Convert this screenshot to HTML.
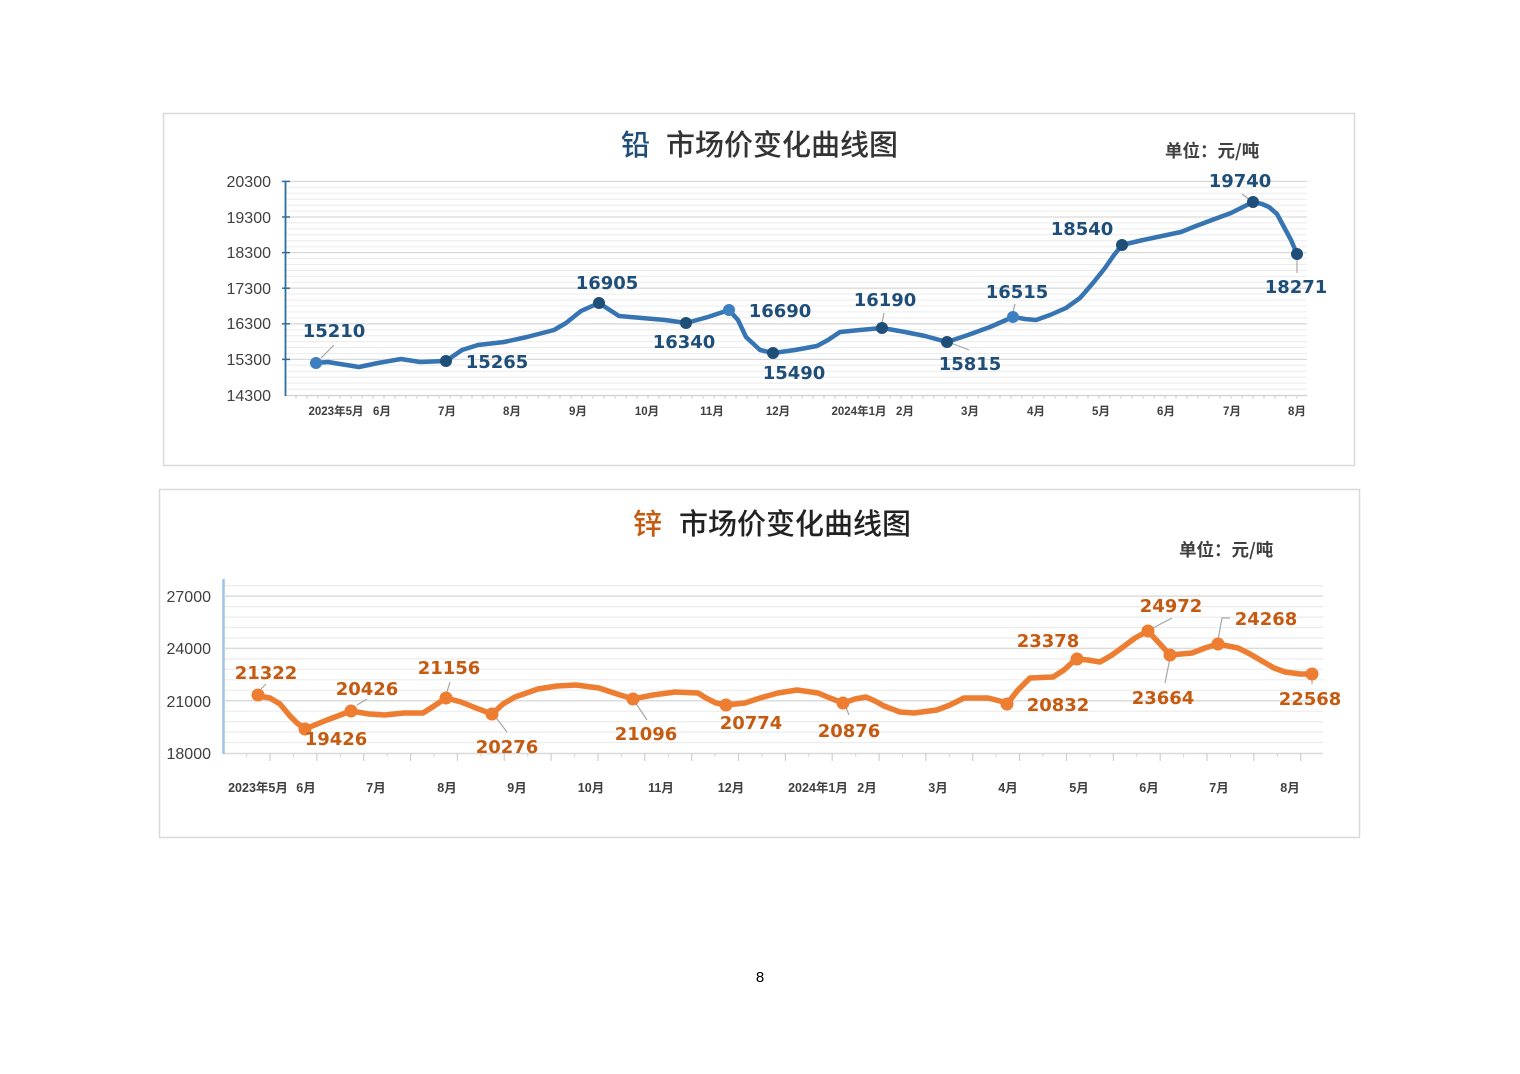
<!DOCTYPE html>
<html><head><meta charset="utf-8"><style>
html,body{margin:0;padding:0;background:#fff;}
svg{display:block;}
.yl{font-family:"Liberation Sans",sans-serif;font-size:16px;fill:#404040;text-anchor:end;}
.xl{font-family:"Liberation Sans","Noto Sans CJK SC",sans-serif;font-size:11.5px;fill:#404040;text-anchor:middle;font-weight:bold;}
.xl2{font-family:"Liberation Sans","Noto Sans CJK SC",sans-serif;font-size:12.5px;fill:#404040;text-anchor:middle;font-weight:bold;}
.d1{font-family:"DejaVu Sans",sans-serif;font-weight:bold;font-size:18px;fill:#1f4e79;text-anchor:middle;}
.d2{font-family:"DejaVu Sans",sans-serif;font-weight:bold;font-size:18px;fill:#c55a11;text-anchor:middle;}
.t{font-family:"Noto Sans CJK SC",sans-serif;font-size:29px;font-weight:500;}
.u{font-family:"Noto Sans CJK SC",sans-serif;font-size:17.5px;font-weight:bold;fill:#404040;}
</style></head><body>
<svg width="1520" height="1074" viewBox="0 0 1520 1074" xmlns="http://www.w3.org/2000/svg">
<rect width="1520" height="1074" fill="#fff"/>

<!-- ============ CHART 1 ============ -->
<rect x="163.5" y="113.5" width="1191" height="352" fill="#fff" stroke="#d9d9d9" stroke-width="1.5"/>
<text class="t" x="621" y="155" fill="#1f4e79">铅</text>
<text class="t" x="666" y="155" fill="#333">市场价变化曲线图</text>
<text class="u" x="1165" y="157">单位：元/吨</text>

<g stroke="#ececec" stroke-width="1">
<line x1="286" x2="1307" y1="187.3" y2="187.3"/><line x1="286" x2="1307" y1="193.3" y2="193.3"/><line x1="286" x2="1307" y1="199.2" y2="199.2"/><line x1="286" x2="1307" y1="205.1" y2="205.1"/><line x1="286" x2="1307" y1="211.1" y2="211.1"/>
<line x1="286" x2="1307" y1="222.9" y2="222.9"/><line x1="286" x2="1307" y1="228.9" y2="228.9"/><line x1="286" x2="1307" y1="234.8" y2="234.8"/><line x1="286" x2="1307" y1="240.7" y2="240.7"/><line x1="286" x2="1307" y1="246.7" y2="246.7"/>
<line x1="286" x2="1307" y1="258.5" y2="258.5"/><line x1="286" x2="1307" y1="264.5" y2="264.5"/><line x1="286" x2="1307" y1="270.4" y2="270.4"/><line x1="286" x2="1307" y1="276.3" y2="276.3"/><line x1="286" x2="1307" y1="282.3" y2="282.3"/>
<line x1="286" x2="1307" y1="294.1" y2="294.1"/><line x1="286" x2="1307" y1="300.1" y2="300.1"/><line x1="286" x2="1307" y1="306" y2="306"/><line x1="286" x2="1307" y1="311.9" y2="311.9"/><line x1="286" x2="1307" y1="317.9" y2="317.9"/>
<line x1="286" x2="1307" y1="329.7" y2="329.7"/><line x1="286" x2="1307" y1="335.7" y2="335.7"/><line x1="286" x2="1307" y1="341.6" y2="341.6"/><line x1="286" x2="1307" y1="347.5" y2="347.5"/><line x1="286" x2="1307" y1="353.5" y2="353.5"/>
<line x1="286" x2="1307" y1="365.3" y2="365.3"/><line x1="286" x2="1307" y1="371.3" y2="371.3"/><line x1="286" x2="1307" y1="377.2" y2="377.2"/><line x1="286" x2="1307" y1="383.1" y2="383.1"/><line x1="286" x2="1307" y1="389.1" y2="389.1"/>
</g>
<g stroke="#d9d9d9" stroke-width="1.3">
<line x1="286" x2="1307" y1="181.4" y2="181.4"/><line x1="286" x2="1307" y1="217" y2="217"/><line x1="286" x2="1307" y1="252.6" y2="252.6"/><line x1="286" x2="1307" y1="288.2" y2="288.2"/><line x1="286" x2="1307" y1="323.8" y2="323.8"/><line x1="286" x2="1307" y1="359.4" y2="359.4"/>
</g>
<!-- x axis -->
<line x1="286" x2="1307" y1="395.5" y2="395.5" stroke="#d0d0d0" stroke-width="1.3"/>
<g stroke="#cfcfcf" stroke-width="1">
<line x1="296" x2="296" y1="395" y2="399"/><line x1="307" x2="307" y1="395" y2="399"/><line x1="318" x2="318" y1="395" y2="399"/><line x1="329" x2="329" y1="395" y2="399"/><line x1="340" x2="340" y1="395" y2="399"/><line x1="351" x2="351" y1="395" y2="399"/><line x1="362" x2="362" y1="395" y2="399"/><line x1="373" x2="373" y1="395" y2="399"/><line x1="384" x2="384" y1="395" y2="399"/><line x1="395" x2="395" y1="395" y2="399"/><line x1="406" x2="406" y1="395" y2="399"/><line x1="417" x2="417" y1="395" y2="399"/><line x1="428" x2="428" y1="395" y2="399"/><line x1="439" x2="439" y1="395" y2="399"/><line x1="450" x2="450" y1="395" y2="399"/><line x1="461" x2="461" y1="395" y2="399"/><line x1="472" x2="472" y1="395" y2="399"/><line x1="483" x2="483" y1="395" y2="399"/><line x1="494" x2="494" y1="395" y2="399"/><line x1="505" x2="505" y1="395" y2="399"/><line x1="516" x2="516" y1="395" y2="399"/><line x1="527" x2="527" y1="395" y2="399"/><line x1="538" x2="538" y1="395" y2="399"/><line x1="549" x2="549" y1="395" y2="399"/><line x1="560" x2="560" y1="395" y2="399"/><line x1="571" x2="571" y1="395" y2="399"/><line x1="582" x2="582" y1="395" y2="399"/><line x1="593" x2="593" y1="395" y2="399"/><line x1="604" x2="604" y1="395" y2="399"/><line x1="615" x2="615" y1="395" y2="399"/><line x1="626" x2="626" y1="395" y2="399"/><line x1="637" x2="637" y1="395" y2="399"/><line x1="648" x2="648" y1="395" y2="399"/><line x1="659" x2="659" y1="395" y2="399"/><line x1="670" x2="670" y1="395" y2="399"/><line x1="681" x2="681" y1="395" y2="399"/><line x1="692" x2="692" y1="395" y2="399"/><line x1="703" x2="703" y1="395" y2="399"/><line x1="714" x2="714" y1="395" y2="399"/><line x1="725" x2="725" y1="395" y2="399"/><line x1="736" x2="736" y1="395" y2="399"/><line x1="747" x2="747" y1="395" y2="399"/><line x1="758" x2="758" y1="395" y2="399"/><line x1="769" x2="769" y1="395" y2="399"/><line x1="780" x2="780" y1="395" y2="399"/><line x1="791" x2="791" y1="395" y2="399"/><line x1="802" x2="802" y1="395" y2="399"/><line x1="813" x2="813" y1="395" y2="399"/><line x1="824" x2="824" y1="395" y2="399"/><line x1="835" x2="835" y1="395" y2="399"/><line x1="846" x2="846" y1="395" y2="399"/><line x1="857" x2="857" y1="395" y2="399"/><line x1="868" x2="868" y1="395" y2="399"/><line x1="879" x2="879" y1="395" y2="399"/><line x1="890" x2="890" y1="395" y2="399"/><line x1="901" x2="901" y1="395" y2="399"/><line x1="912" x2="912" y1="395" y2="399"/><line x1="923" x2="923" y1="395" y2="399"/><line x1="934" x2="934" y1="395" y2="399"/><line x1="945" x2="945" y1="395" y2="399"/><line x1="956" x2="956" y1="395" y2="399"/><line x1="967" x2="967" y1="395" y2="399"/><line x1="978" x2="978" y1="395" y2="399"/><line x1="989" x2="989" y1="395" y2="399"/><line x1="1000" x2="1000" y1="395" y2="399"/><line x1="1011" x2="1011" y1="395" y2="399"/><line x1="1022" x2="1022" y1="395" y2="399"/><line x1="1033" x2="1033" y1="395" y2="399"/><line x1="1044" x2="1044" y1="395" y2="399"/><line x1="1055" x2="1055" y1="395" y2="399"/><line x1="1066" x2="1066" y1="395" y2="399"/><line x1="1077" x2="1077" y1="395" y2="399"/><line x1="1088" x2="1088" y1="395" y2="399"/><line x1="1099" x2="1099" y1="395" y2="399"/><line x1="1110" x2="1110" y1="395" y2="399"/><line x1="1121" x2="1121" y1="395" y2="399"/><line x1="1132" x2="1132" y1="395" y2="399"/><line x1="1143" x2="1143" y1="395" y2="399"/><line x1="1154" x2="1154" y1="395" y2="399"/><line x1="1165" x2="1165" y1="395" y2="399"/><line x1="1176" x2="1176" y1="395" y2="399"/><line x1="1187" x2="1187" y1="395" y2="399"/><line x1="1198" x2="1198" y1="395" y2="399"/><line x1="1209" x2="1209" y1="395" y2="399"/><line x1="1220" x2="1220" y1="395" y2="399"/><line x1="1231" x2="1231" y1="395" y2="399"/><line x1="1242" x2="1242" y1="395" y2="399"/><line x1="1253" x2="1253" y1="395" y2="399"/><line x1="1264" x2="1264" y1="395" y2="399"/><line x1="1275" x2="1275" y1="395" y2="399"/><line x1="1286" x2="1286" y1="395" y2="399"/><line x1="1297" x2="1297" y1="395" y2="399"/>
</g>
<!-- y axis -->
<line x1="285.5" x2="285.5" y1="181" y2="396" stroke="#2e6e9e" stroke-width="1.8"/>
<g stroke="#2e6e9e" stroke-width="1.5">
<line x1="282" x2="290" y1="181.4" y2="181.4"/><line x1="282" x2="290" y1="217" y2="217"/><line x1="282" x2="290" y1="252.6" y2="252.6"/><line x1="282" x2="290" y1="288.2" y2="288.2"/><line x1="282" x2="290" y1="323.8" y2="323.8"/><line x1="282" x2="290" y1="359.4" y2="359.4"/>
</g>
<g class="yl">
<text x="271" y="187">20300</text><text x="271" y="223">19300</text><text x="271" y="258">18300</text><text x="271" y="294">17300</text><text x="271" y="329">16300</text><text x="271" y="365">15300</text><text x="271" y="401">14300</text>
</g>
<g class="xl">
<text x="336" y="415">2023年5月</text><text x="382" y="415">6月</text><text x="447" y="415">7月</text><text x="512" y="415">8月</text><text x="578" y="415">9月</text><text x="647" y="415">10月</text><text x="712" y="415">11月</text><text x="778" y="415">12月</text><text x="859" y="415">2024年1月</text><text x="905" y="415">2月</text><text x="970" y="415">3月</text><text x="1036" y="415">4月</text><text x="1101" y="415">5月</text><text x="1166" y="415">6月</text><text x="1232" y="415">7月</text><text x="1297" y="415">8月</text>
</g>
<!-- leader lines -->
<g stroke="#a6a6a6" stroke-width="1.2" fill="none">
<line x1="334" y1="345" x2="321" y2="358"/>
<line x1="884" y1="313" x2="882" y2="323"/>
<line x1="951" y1="343" x2="969" y2="350"/>
<line x1="1015" y1="304" x2="1013" y2="312"/>
<line x1="1242" y1="194" x2="1250" y2="200"/>
<line x1="1297" y1="258" x2="1297" y2="273"/>
</g>
<polyline fill="none" stroke="#3674b2" stroke-width="4.5" stroke-linejoin="round" stroke-linecap="round" points="315,363 328,362 340,364 359,367 378,363 401,359 420,362 446,361 462,350 478,345 504,342 527,337 554,330 566,323 581,311 599,303 619,316 642,318 665,320 686,323 708,317 729,310 738,320 746,337 760,350 773,353 795,350 817,346 828,340 840,332 860,330 882,328 905,332 925,336 947,342 968,335 990,327 1013,317 1025,319 1036,320 1050,315 1066,308 1080,298 1093,283 1105,268 1114,255 1122,245 1143,240 1162,236 1181,232 1196,226 1212,220 1231,213 1253,202 1262,204 1269,207 1277,214 1284,227 1291,240 1297,254"/>
<g>
<circle cx="316" cy="363" r="6" fill="#3d7fc0"/>
<circle cx="446" cy="361" r="6" fill="#1f4e79"/>
<circle cx="599" cy="303" r="6" fill="#1f4e79"/>
<circle cx="686" cy="323" r="6" fill="#1f4e79"/>
<circle cx="729" cy="310" r="6" fill="#3d7fc0"/>
<circle cx="773" cy="353" r="6" fill="#1f4e79"/>
<circle cx="882" cy="328" r="6" fill="#1f4e79"/>
<circle cx="947" cy="342" r="6" fill="#1f4e79"/>
<circle cx="1013" cy="317" r="6" fill="#3d7fc0"/>
<circle cx="1122" cy="245" r="6" fill="#1f4e79"/>
<circle cx="1253" cy="202" r="6" fill="#1f4e79"/>
<circle cx="1297" cy="254" r="6" fill="#1f4e79"/>
</g>
<g class="d1">
<text x="334" y="337">15210</text>
<text x="497" y="368">15265</text>
<text x="607" y="289">16905</text>
<text x="684" y="348">16340</text>
<text x="780" y="317">16690</text>
<text x="794" y="379">15490</text>
<text x="885" y="306">16190</text>
<text x="970" y="370">15815</text>
<text x="1017" y="298">16515</text>
<text x="1082" y="235">18540</text>
<text x="1240" y="187">19740</text>
<text x="1296" y="293">18271</text>
</g>

<!-- ============ CHART 2 ============ -->
<rect x="159.5" y="489.5" width="1200" height="348" fill="#fff" stroke="#d9d9d9" stroke-width="1.5"/>
<text class="t" x="633" y="534" fill="#c55a11">锌</text>
<text class="t" x="679" y="534" fill="#222">市场价变化曲线图</text>
<text class="u" x="1179" y="556">单位：元/吨</text>

<g stroke="#ececec" stroke-width="1.2">
<line x1="224" x2="1323" y1="585.6" y2="585.6"/><line x1="224" x2="1323" y1="606.6" y2="606.6"/><line x1="224" x2="1323" y1="617.1" y2="617.1"/><line x1="224" x2="1323" y1="627.5" y2="627.5"/><line x1="224" x2="1323" y1="638" y2="638"/>
<line x1="224" x2="1323" y1="658.9" y2="658.9"/><line x1="224" x2="1323" y1="669.3" y2="669.3"/><line x1="224" x2="1323" y1="679.8" y2="679.8"/><line x1="224" x2="1323" y1="690.2" y2="690.2"/>
<line x1="224" x2="1323" y1="711.2" y2="711.2"/><line x1="224" x2="1323" y1="721.6" y2="721.6"/><line x1="224" x2="1323" y1="732.1" y2="732.1"/><line x1="224" x2="1323" y1="742.5" y2="742.5"/>
</g>
<g stroke="#dcdcdc" stroke-width="1.5">
<line x1="224" x2="1323" y1="596.1" y2="596.1"/><line x1="224" x2="1323" y1="648.4" y2="648.4"/><line x1="224" x2="1323" y1="700.7" y2="700.7"/>
</g>
<line x1="224" x2="1323" y1="753.5" y2="753.5" stroke="#d9d9d9" stroke-width="1.5"/>
<g stroke="#cfcfcf" stroke-width="1.2">
<line x1="270" x2="270" y1="753" y2="761"/><line x1="316.9" x2="316.9" y1="753" y2="761"/><line x1="363.7" x2="363.7" y1="753" y2="761"/><line x1="410.6" x2="410.6" y1="753" y2="761"/><line x1="457.4" x2="457.4" y1="753" y2="761"/><line x1="504.3" x2="504.3" y1="753" y2="761"/><line x1="551.1" x2="551.1" y1="753" y2="761"/><line x1="598" x2="598" y1="753" y2="761"/><line x1="644.8" x2="644.8" y1="753" y2="761"/><line x1="691.7" x2="691.7" y1="753" y2="761"/><line x1="738.5" x2="738.5" y1="753" y2="761"/><line x1="785.4" x2="785.4" y1="753" y2="761"/><line x1="832.2" x2="832.2" y1="753" y2="761"/><line x1="879.1" x2="879.1" y1="753" y2="761"/><line x1="925.9" x2="925.9" y1="753" y2="761"/><line x1="972.8" x2="972.8" y1="753" y2="761"/><line x1="1019.6" x2="1019.6" y1="753" y2="761"/><line x1="1066.5" x2="1066.5" y1="753" y2="761"/><line x1="1113.3" x2="1113.3" y1="753" y2="761"/><line x1="1160.2" x2="1160.2" y1="753" y2="761"/><line x1="1207" x2="1207" y1="753" y2="761"/><line x1="1253.9" x2="1253.9" y1="753" y2="761"/><line x1="1300.7" x2="1300.7" y1="753" y2="761"/>
</g>
<g stroke="#d6d6d6" stroke-width="1">
<line x1="246.6" x2="246.6" y1="753" y2="757"/><line x1="293.5" x2="293.5" y1="753" y2="757"/><line x1="340.3" x2="340.3" y1="753" y2="757"/><line x1="387.2" x2="387.2" y1="753" y2="757"/><line x1="434" x2="434" y1="753" y2="757"/><line x1="480.9" x2="480.9" y1="753" y2="757"/><line x1="527.7" x2="527.7" y1="753" y2="757"/><line x1="574.6" x2="574.6" y1="753" y2="757"/><line x1="621.4" x2="621.4" y1="753" y2="757"/><line x1="668.3" x2="668.3" y1="753" y2="757"/><line x1="715.1" x2="715.1" y1="753" y2="757"/><line x1="762" x2="762" y1="753" y2="757"/><line x1="808.8" x2="808.8" y1="753" y2="757"/><line x1="855.7" x2="855.7" y1="753" y2="757"/><line x1="902.5" x2="902.5" y1="753" y2="757"/><line x1="949.4" x2="949.4" y1="753" y2="757"/><line x1="996.2" x2="996.2" y1="753" y2="757"/><line x1="1043.1" x2="1043.1" y1="753" y2="757"/><line x1="1089.9" x2="1089.9" y1="753" y2="757"/><line x1="1136.8" x2="1136.8" y1="753" y2="757"/><line x1="1183.6" x2="1183.6" y1="753" y2="757"/><line x1="1230.5" x2="1230.5" y1="753" y2="757"/><line x1="1277.3" x2="1277.3" y1="753" y2="757"/>
</g>
<line x1="223.5" x2="223.5" y1="579" y2="754" stroke="#9dc3e6" stroke-width="2.5"/>
<g stroke="#c9dcee" stroke-width="1.2">
<line x1="224" x2="229" y1="596.1" y2="596.1"/><line x1="224" x2="229" y1="648.4" y2="648.4"/><line x1="224" x2="229" y1="700.7" y2="700.7"/>
</g>
<g class="yl">
<text x="211" y="602">27000</text><text x="211" y="654">24000</text><text x="211" y="707">21000</text><text x="211" y="759">18000</text>
</g>
<g class="xl2">
<text x="258" y="792">2023年5月</text><text x="306" y="792">6月</text><text x="376" y="792">7月</text><text x="447" y="792">8月</text><text x="517" y="792">9月</text><text x="591" y="792">10月</text><text x="661" y="792">11月</text><text x="731" y="792">12月</text><text x="818" y="792">2024年1月</text><text x="867" y="792">2月</text><text x="938" y="792">3月</text><text x="1008" y="792">4月</text><text x="1079" y="792">5月</text><text x="1149" y="792">6月</text><text x="1219" y="792">7月</text><text x="1290" y="792">8月</text>
</g>
<g stroke="#a6a6a6" stroke-width="1.2" fill="none">
<line x1="261" y1="689" x2="266" y2="684"/>
<line x1="357" y1="705" x2="367" y2="699"/>
<line x1="450" y1="682" x2="446" y2="695"/>
<line x1="494" y1="715" x2="507" y2="732"/>
<line x1="635" y1="702" x2="647" y2="720"/>
<line x1="845" y1="705" x2="849" y2="715"/>
<line x1="1153" y1="628" x2="1172" y2="618"/>
<line x1="1170" y1="658" x2="1165" y2="683"/>
<polyline points="1218,640 1222,618 1230,618"/>
<line x1="1312" y1="678" x2="1312" y2="684"/>
</g>
<polyline fill="none" stroke="#ed7d31" stroke-width="5.5" stroke-linejoin="round" stroke-linecap="round" points="258,696 270,698 280,704 290,716 297,723 305,729 327,720 351,711 369,714 385,715 404,713 423,713 434,706 446,698 461,702 476,708 492,714 503,704 515,697 538,689 557,686 576,685 599,688 614,693 633,699 653,695 675,692 698,693 706,698 716,703 726,705 745,703 760,698 778,693 797,690 818,693 830,698 843,703 855,699 866,697 875,701 884,706 900,712 914,713 937,710 950,705 964,698 988,698 1000,701 1007,704 1018,690 1030,678 1053,677 1064,670 1076,659 1088,660 1100,662 1112,655 1123,647 1135,638 1148,631 1160,644 1170,655 1192,653 1205,648 1218,644 1238,648 1250,654 1262,661 1274,668 1285,672 1300,674 1312,674"/>
<g fill="#ed7d31">
<circle cx="258" cy="695" r="6.5"/>
<circle cx="305" cy="729" r="6.5"/>
<circle cx="351" cy="711" r="6.5"/>
<circle cx="446" cy="698" r="6.5"/>
<circle cx="492" cy="714" r="6.5"/>
<circle cx="633" cy="699" r="6.5"/>
<circle cx="726" cy="705" r="6.5"/>
<circle cx="843" cy="703" r="6.5"/>
<circle cx="1007" cy="704" r="6.5"/>
<circle cx="1077" cy="659" r="6.5"/>
<circle cx="1148" cy="631" r="6.5"/>
<circle cx="1170" cy="655" r="6.5"/>
<circle cx="1218" cy="644" r="6.5"/>
<circle cx="1312" cy="674" r="6.5"/>
</g>
<g class="d2">
<text x="266" y="679">21322</text>
<text x="336" y="745">19426</text>
<text x="367" y="695">20426</text>
<text x="449" y="674">21156</text>
<text x="507" y="753">20276</text>
<text x="646" y="740">21096</text>
<text x="751" y="729">20774</text>
<text x="849" y="737">20876</text>
<text x="1058" y="711">20832</text>
<text x="1048" y="647">23378</text>
<text x="1171" y="612">24972</text>
<text x="1163" y="704">23664</text>
<text x="1266" y="625">24268</text>
<text x="1310" y="705">22568</text>
</g>

<text x="760" y="982" font-family="Liberation Sans, sans-serif" font-size="15" fill="#000" text-anchor="middle">8</text>
</svg>
</body></html>
